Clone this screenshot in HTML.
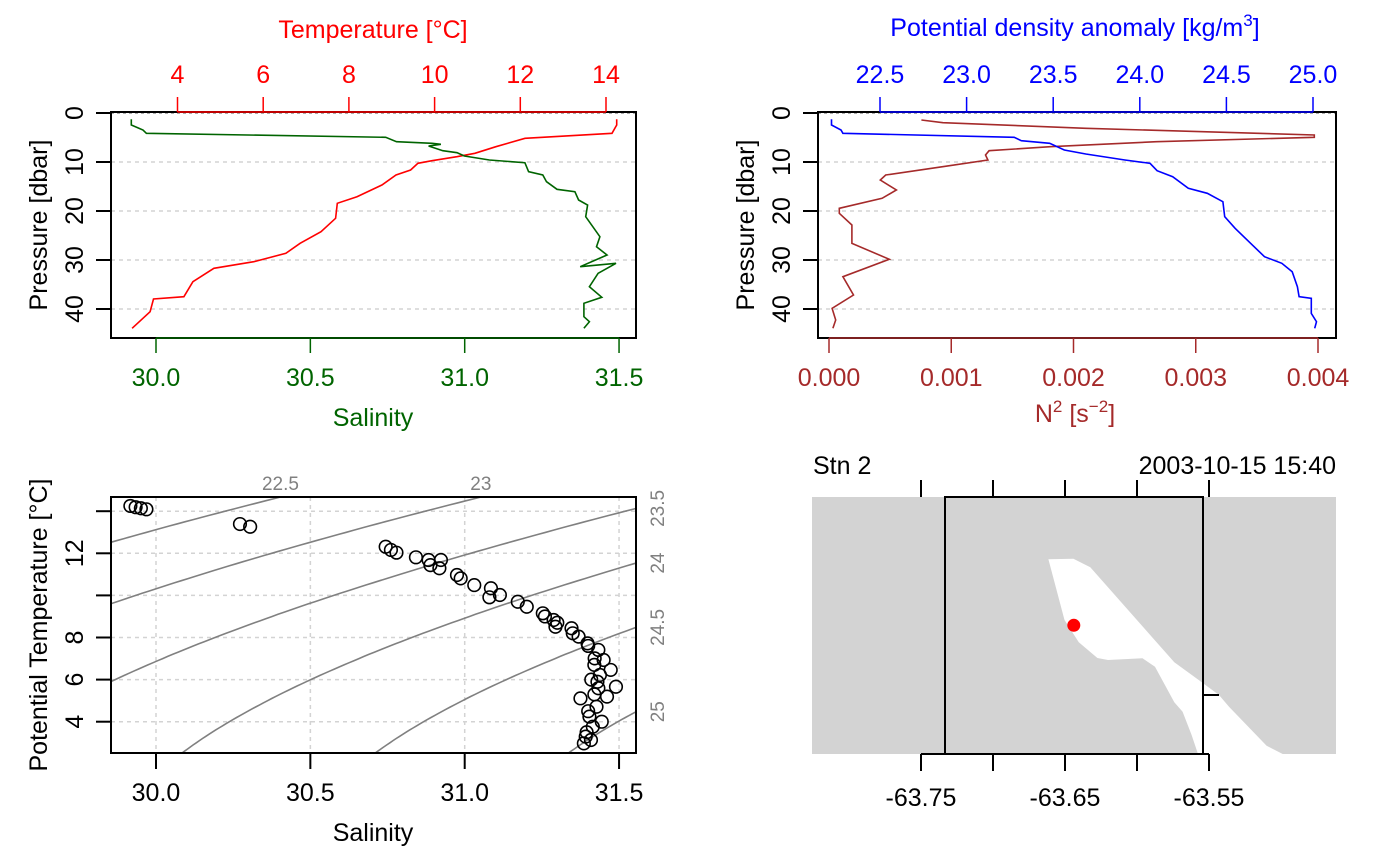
<!DOCTYPE html>
<html><head><meta charset="utf-8"><style>
html,body{margin:0;padding:0;background:#fff;}
svg{display:block;font-family:"Liberation Sans",sans-serif;}
</style></head><body>
<svg id="c" width="1400" height="866" viewBox="0 0 1400 866" xmlns="http://www.w3.org/2000/svg">
<defs>
<clipPath id="clip1"><rect x="111" y="112" width="525" height="226"/></clipPath>
<clipPath id="clip2"><rect x="818" y="112" width="518" height="226"/></clipPath>
<clipPath id="clip3"><rect x="111" y="497" width="525" height="256"/></clipPath>
</defs>
<g id="p1"></g>
<g id="p2"></g>
<g id="p3"></g>
<g id="p4">
  <rect x="812" y="497" width="524" height="257" fill="#d3d3d3"/>
  <polygon fill="#fff" points="1048.4,559.3 1073.4,558.7 1090.3,567.3 1174.3,662.3 1198.7,680 1219,695 1229,706.7 1266.6,745.7 1282.7,754 1198,754 1191.6,735 1182.6,711.7 1174.3,702.3 1155,666.7 1142.5,658.3 1108,660 1097.4,658 1078.8,642.3 1064.5,620"/>
  <rect x="945" y="497" width="258" height="257" fill="none" stroke="#000" stroke-width="2"/>
  <circle cx="1073.8" cy="625.3" r="6.5" fill="#ff0000"/>
  <g stroke="#000" stroke-width="2">
    <line x1="921" y1="480" x2="921" y2="497"/><line x1="993" y1="480" x2="993" y2="497"/><line x1="1065" y1="480" x2="1065" y2="497"/><line x1="1137" y1="480" x2="1137" y2="497"/><line x1="1209" y1="480" x2="1209" y2="497"/>
    <line x1="921" y1="754" x2="921" y2="771"/><line x1="993" y1="754" x2="993" y2="771"/><line x1="1065" y1="754" x2="1065" y2="771"/><line x1="1137" y1="754" x2="1137" y2="771"/><line x1="1209" y1="754" x2="1209" y2="771"/>
    <line x1="921" y1="754" x2="1209" y2="754"/>
    <line x1="1203" y1="695" x2="1219" y2="695"/>
  </g>
  <text x="921" y="806" font-size="25" text-anchor="middle">-63.75</text>
  <text x="1065" y="806" font-size="25" text-anchor="middle">-63.65</text>
  <text x="1209" y="806" font-size="25" text-anchor="middle">-63.55</text>
  <text x="813" y="474" font-size="25">Stn 2</text>
  <text x="1336" y="474" font-size="25" text-anchor="end">2003-10-15 15:40</text>
</g>
</svg>
<script>
// ---- Panel 1 data: temperature profile ----
const tempP=[1.29,2.45,4.14,5.16,6.88,8.22,8.92,9.73,10.27,11.63,12.65,14.69,17.08,18.43,21.49,24.22,26.59,28.63,30.35,31.69,34.43,37.49,37.96,40.55,43.94];
const tempT=[14.25,14.25,14.14,12.11,11.43,10.94,10.52,9.94,9.61,9.44,9.10,8.77,8.19,7.73,7.69,7.35,6.86,6.53,5.78,4.85,4.36,4.15,3.44,3.36,2.94];
// salinity profile
const salP=[1.29,2.45,3.47,4.14,4.96,5.86,6.19,6.39,6.73,7.70,8.10,8.78,9.59,10.14,11.98,12.65,14.02,15.57,16.06,17.76,18.78,21.17,23.21,25.25,27.29,28.98,31.36,30.67,32.72,35.45,37.61,38.84,41.57,42.59,43.94];
const salS=[29.92,29.92,29.958,29.969,30.744,30.779,30.894,30.923,30.883,30.929,30.975,30.999,31.08,31.195,31.207,31.253,31.265,31.299,31.357,31.369,31.398,31.392,31.415,31.438,31.427,31.461,31.374,31.49,31.432,31.404,31.444,31.386,31.386,31.404,31.386];
// ---- Panel 2 data ----
const sigP=[1.29,2.45,3.47,4.14,4.96,5.65,6.18,7.55,8.37,9.59,10.27,11.77,12.99,15.37,16.39,18.10,21.17,23.54,26.59,29.32,30.67,32.38,35.45,37.49,37.82,40.89,42.59,43.94];
const sigV=[22.22,22.22,22.275,22.286,23.275,23.316,23.48,23.564,23.688,23.914,24.059,24.1,24.19,24.28,24.39,24.48,24.49,24.55,24.64,24.72,24.82,24.88,24.91,24.92,24.99,24.99,25.02,25.01];
const n2P=[1.43,1.98,3.12,4.49,4.96,5.86,6.88,7.70,8.57,9.59,10.95,12.65,13.67,15.71,17.41,19.45,20.47,22.86,26.59,29.86,33.40,37.14,39.86,42.24,43.94];
const n2V=[0.000756,0.000932,0.0021,0.00397,0.00397,0.00268,0.00181,0.00131,0.00128,0.0013,0.00093,0.000464,0.00042,0.000551,0.000434,0.000084,0.000084,0.000187,0.000187,0.000493,0.000114,0.0002,0.000025,0.000055,0.000032];
// ---- Panel 3 data (TS points) ----
const tsS=[29.917,29.934,29.951,29.969,30.272,30.305,30.744,30.761,30.779,30.842,30.883,30.923,30.889,30.918,30.975,30.987,31.031,31.085,31.114,31.08,31.172,31.201,31.253,31.288,31.294,31.346,31.369,31.398,31.433,31.421,31.45,31.473,31.438,31.49,31.433,31.461,31.375,31.427,31.404,31.444,31.415,31.392,31.386,31.409,31.26,31.30,31.35,31.40,31.42,31.41,31.40,31.395,31.43,31.42];
const tsT=[14.25,14.19,14.14,14.09,13.39,13.26,12.31,12.16,12.03,11.81,11.68,11.68,11.44,11.29,10.97,10.81,10.49,10.34,10.02,9.91,9.70,9.46,9.15,8.83,8.51,8.44,8.04,7.72,7.41,7.01,6.93,6.46,6.22,5.66,5.59,5.19,5.11,4.71,4.24,4.0,3.76,3.29,2.97,3.13,9.0,8.7,8.2,7.6,6.7,6.0,4.5,3.5,5.9,5.3];
const sigLevels=[22.5,23,23.5,24,24.5,25];
const salTicks=[30.0,30.5,31.0,31.5];
const tempTicks=[4,6,8,10,12,14];
const presTicks=[0,10,20,30,40];
const sigTicks=[22.5,23.0,23.5,24.0,24.5,25.0];
const n2Ticks=[0,0.001,0.002,0.003,0.004];
const thTicks=[4,6,8,10,12,14];

const FS=25;
const NS='http://www.w3.org/2000/svg';
function mk(parent,tag,attrs,txt){const e=document.createElementNS(NS,tag);for(const k in attrs)e.setAttribute(k,attrs[k]);if(txt!==undefined)e.textContent=txt;parent.appendChild(e);return e;}
const xS=s=>156+(s-30)*308.7;
const yP=p=>113+p*4.9;
const xT=t=>177.5+(t-4)*42.85;
const xSig=v=>880+(v-22.5)*173.2;
const xN2=v=>829+v*122250;
const yTh=t=>721.7-(t-4)*21.05;

const p1=document.getElementById('p1'),p2=document.getElementById('p2'),p3=document.getElementById('p3');
function leftPressure(g,x0,x1){
  presTicks.forEach(p=>{
    if(p>0){const gl=mk(g,'line',{x1:x0,x2:x1,y1:yP(p),y2:yP(p),stroke:'#d3d3d3','stroke-width':1.5,'stroke-dasharray':'4,4'});
    
    }
    const t=mk(g,'line',{x1:x0-15,x2:x0,y1:yP(p),y2:yP(p),stroke:'#000','stroke-width':2});
    
    
    const l=mk(g,'text',{x:0,y:0,'font-size':FS,'text-anchor':'middle',transform:`translate(${x0-28},${yP(p)}) rotate(-90)`},String(p));
    
    
  });
  mk(g,'line',{x1:x0,x2:x1,y1:113,y2:113,stroke:'#555','stroke-width':1,'stroke-dasharray':'3,3'});
  const tt=mk(g,'text',{x:0,y:0,'font-size':FS,'text-anchor':'middle',transform:`translate(${x0-64},225) rotate(-90)`},'Pressure [dbar]');
  
  
}
function polyline(g,xs,ys,color,clip,name,w){
  const pts=xs.map((x,i)=>x.toFixed(1)+','+ys[i].toFixed(1)).join(' ');
  const e=mk(g,'polyline',{points:pts,fill:'none',stroke:color,'stroke-width':w||1.6,'clip-path':`url(#${clip})`});
  
  
}
function hAxis(g,ticks,fx,y,dir,color,fmt,name,lblOff){
  const xs=ticks.map(fx);
  const al=mk(g,'line',{x1:xs[0],x2:xs[xs.length-1],y1:y,y2:y,stroke:color,'stroke-width':1.5});
  
  
  ticks.forEach((v,i)=>{
    const t=mk(g,'line',{x1:xs[i],x2:xs[i],y1:y,y2:y+dir*15,stroke:color,'stroke-width':1.5});
    
    
    const l=mk(g,'text',{x:xs[i],y:y+lblOff,'font-size':FS,'text-anchor':'middle',fill:color},fmt(v));
    
    
  });
}
// Panel 1
leftPressure(p1,111,636);
polyline(p1,tempT.map(xT),tempP.map(yP),'#ff0000','clip1','temperature-line');
polyline(p1,salS.map(xS),salP.map(yP),'#006400','clip1','salinity-line');
mk(p1,'rect',{x:111,y:112,width:525,height:226,fill:'none',stroke:'#000','stroke-width':2});
hAxis(p1,tempTicks,xT,112,-1,'#ff0000',v=>String(v),'temperature-axis',-29);
hAxis(p1,salTicks,xS,338,1,'#006400',v=>v.toFixed(1),'salinity-axis',48);
let e=mk(p1,'text',{x:373,y:38,'font-size':FS,'text-anchor':'middle',fill:'#ff0000'},'Temperature [°C]');


e=mk(p1,'text',{x:373,y:426,'font-size':FS,'text-anchor':'middle',fill:'#006400'},'Salinity');


// Panel 2
leftPressure(p2,818,1336);
polyline(p2,n2V.map(xN2),n2P.map(yP),'#a52a2a','clip2','n2-line');
polyline(p2,sigV.map(xSig),sigP.map(yP),'#0000ff','clip2','density-line');
mk(p2,'rect',{x:818,y:112,width:518,height:226,fill:'none',stroke:'#000','stroke-width':2});
hAxis(p2,sigTicks,xSig,112,-1,'#0000ff',v=>v.toFixed(1),'density-axis',-29);
hAxis(p2,n2Ticks,xN2,338,1,'#a52a2a',v=>v.toFixed(3),'n2-axis',48);
e=mk(p2,'text',{x:1075,y:36,'font-size':FS,'text-anchor':'middle',fill:'#0000ff'});
e.innerHTML='Potential density anomaly [kg/m<tspan dy="-10" font-size="17">3</tspan><tspan dy="10">]</tspan>';


e=mk(p2,'text',{x:1075,y:422,'font-size':FS,'text-anchor':'middle',fill:'#a52a2a'});
e.innerHTML='N<tspan dy="-10" font-size="17">2</tspan><tspan dy="10"> [s</tspan><tspan dy="-10" font-size="17">−2</tspan><tspan dy="10">]</tspan>';


// Panel 3
function rho(S,T){
  const rw=999.842594+6.793952e-2*T-9.095290e-3*T*T+1.001685e-4*T**3-1.120083e-6*T**4+6.536332e-9*T**5;
  const A=8.24493e-1-4.0899e-3*T+7.6438e-5*T*T-8.2467e-7*T**3+5.3875e-9*T**4;
  const B=-5.72466e-3+1.0227e-4*T-1.6546e-6*T*T;
  return rw+A*S+B*Math.pow(S,1.5)+4.8314e-4*S*S-1000;
}
function solveS(sig,T){let a=25,b=36;for(let i=0;i<50;i++){const m=(a+b)/2;if(rho(m,T)<sig)a=m;else b=m;}return (a+b)/2;}
salTicks.forEach(s=>{const l=mk(p3,'line',{x1:xS(s),x2:xS(s),y1:497,y2:753,stroke:'#d3d3d3','stroke-width':1.5,'stroke-dasharray':'4,4'});
  
  });
thTicks.forEach(t=>{const l=mk(p3,'line',{x1:111,x2:636,y1:yTh(t),y2:yTh(t),stroke:'#d3d3d3','stroke-width':1.5,'stroke-dasharray':'4,4'});
  
  });
sigLevels.forEach(lv=>{
  const xs=[],ys=[];
  for(let T=2.0;T<=15.01;T+=0.1){xs.push(xS(solveS(lv,T)));ys.push(yTh(T));}
  polyline(p3,xs,ys,'#808080','clip3','isopycnal-'+lv,1.6);
  const Ttop=4+(721.7-497)/21.05, s=solveS(lv,Ttop), x=xS(s);
  let t;
  if(x<636){t=mk(p3,'text',{x:x,y:490,'font-size':19,'text-anchor':'middle',fill:'#808080'},String(lv));}
  else{
    let lo=2,hi=Ttop;for(let i=0;i<40;i++){const m=(lo+hi)/2;if(xS(solveS(lv,m))<636)lo=m;else hi=m;}
    t=mk(p3,'text',{x:0,y:0,'font-size':19,'text-anchor':'middle',fill:'#808080',transform:`translate(664,${yTh(lo)}) rotate(-90)`},String(lv));}
  
  
});
tsS.forEach((s,i)=>{const c=mk(p3,'circle',{cx:xS(s),cy:yTh(tsT[i]),r:6.3,fill:'none',stroke:'#000','stroke-width':1.6,'clip-path':'url(#clip3)'});
  
  });
mk(p3,'rect',{x:111,y:497,width:525,height:256,fill:'none',stroke:'#000','stroke-width':2});
salTicks.forEach(s=>{const t=mk(p3,'line',{x1:xS(s),x2:xS(s),y1:753,y2:769,stroke:'#000','stroke-width':2});
  
  
  const l=mk(p3,'text',{x:xS(s),y:801,'font-size':FS,'text-anchor':'middle'},s.toFixed(1));
  
  });
thTicks.forEach(t=>{const k=mk(p3,'line',{x1:96,x2:111,y1:yTh(t),y2:yTh(t),stroke:'#000','stroke-width':2});
  
  
  if(t!==10&&t!==14){const l=mk(p3,'text',{x:0,y:0,'font-size':FS,'text-anchor':'middle',transform:`translate(83,${yTh(t)}) rotate(-90)`},String(t));
  
  }});
e=mk(p3,'text',{x:373,y:841,'font-size':FS,'text-anchor':'middle'},'Salinity');


e=mk(p3,'text',{x:0,y:0,'font-size':FS,'text-anchor':'middle',transform:'translate(47,625) rotate(-90)'},'Potential Temperature [°C]');


</script>
</body></html>
